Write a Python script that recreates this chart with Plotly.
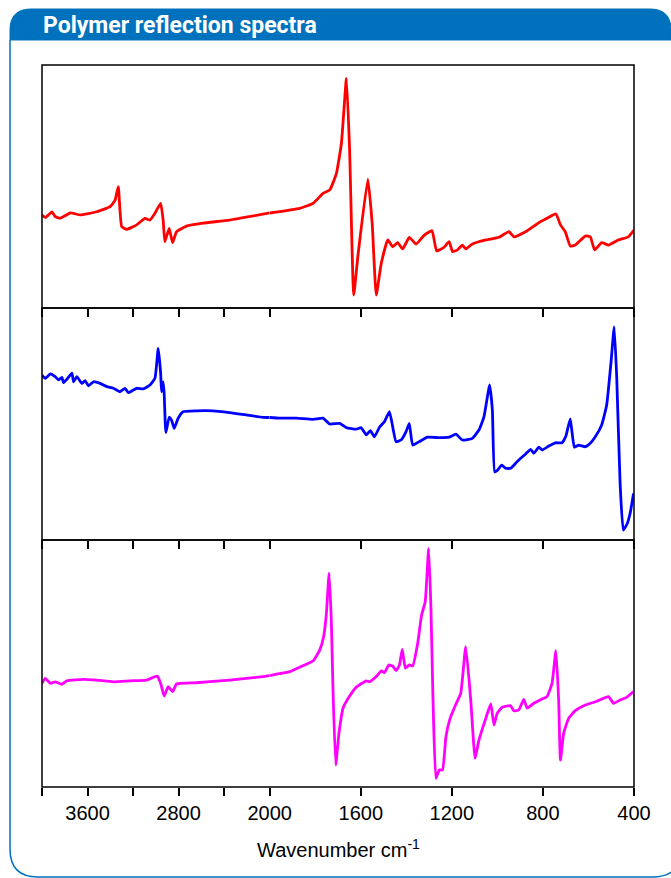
import plotly.graph_objects as go

# ---------------- data ----------------
red_wn = [4000, 3971, 3912, 3884, 3840, 3752, 3665, 3519, 3402, 3358, 3330, 3300, 3256, 3168,
          3096, 3052, 3008, 2958, 2936, 2921, 2883, 2853, 2818, 2731, 2586, 2352, 2000, 1868,
          1809, 1766, 1736, 1707, 1685, 1663, 1649, 1631, 1613, 1569, 1550, 1532, 1510, 1481,
          1460, 1438, 1416, 1387, 1357, 1321, 1287, 1267, 1234, 1212, 1197, 1175, 1154, 1139,
          1110, 1051, 993, 949, 928, 876, 818, 782, 743, 723, 702, 680, 658, 614, 592, 573,
          542, 512, 469, 425, 400]
red_val = [0.383, 0.372, 0.396, 0.376, 0.370, 0.391, 0.383, 0.396, 0.417, 0.444, 0.499, 0.335,
           0.324, 0.342, 0.369, 0.362, 0.390, 0.431, 0.362, 0.273, 0.328, 0.269, 0.314, 0.337,
           0.349, 0.362, 0.391, 0.410, 0.431, 0.472, 0.486, 0.554, 0.678, 0.945, 0.650, 0.053,
           0.211, 0.530, 0.349, 0.053, 0.184, 0.280, 0.252, 0.269, 0.243, 0.291, 0.263, 0.300,
           0.318, 0.235, 0.250, 0.273, 0.232, 0.239, 0.259, 0.243, 0.263, 0.280, 0.291, 0.314,
           0.293, 0.314, 0.351, 0.369, 0.387, 0.342, 0.314, 0.255, 0.259, 0.296, 0.293, 0.239,
           0.269, 0.259, 0.280, 0.293, 0.321]

blue_wn = [4000, 3971, 3927, 3884, 3855, 3825, 3811, 3781, 3737, 3723, 3694, 3650, 3621, 3592,
           3548, 3490, 3431, 3373, 3315, 3271, 3242, 3168, 3111, 3052, 3008, 2979, 2958, 2950,
           2936, 2927, 2912, 2883, 2862, 2839, 2804, 2761, 2643, 2498, 2352, 2206, 2060, 2000,
           1955, 1882, 1809, 1766, 1736, 1693, 1663, 1620, 1598, 1576, 1558, 1540, 1518, 1496,
           1474, 1445, 1423, 1401, 1387, 1372, 1343, 1307, 1255, 1212, 1182, 1154, 1110, 1081,
           1059, 1034, 1022, 1012, 1001, 981, 964, 942, 913, 876, 854, 840, 818, 804, 774, 745,
           716, 699, 680, 662, 643, 614, 592, 570, 542, 520, 500, 487, 476, 461, 447, 429, 417,
           402]
blue_val = [0.711, 0.697, 0.716, 0.704, 0.690, 0.701, 0.678, 0.693, 0.719, 0.682, 0.704, 0.675,
            0.687, 0.664, 0.682, 0.675, 0.661, 0.654, 0.639, 0.654, 0.635, 0.654, 0.651, 0.668,
            0.697, 0.826, 0.719, 0.639, 0.682, 0.632, 0.463, 0.529, 0.517, 0.481, 0.525, 0.553,
            0.557, 0.557, 0.549, 0.539, 0.529, 0.528, 0.525, 0.525, 0.520, 0.525, 0.500, 0.503,
            0.484, 0.478, 0.484, 0.453, 0.471, 0.445, 0.486, 0.510, 0.553, 0.424, 0.431, 0.467,
            0.503, 0.409, 0.424, 0.443, 0.441, 0.443, 0.456, 0.431, 0.438, 0.474, 0.531, 0.668,
            0.560, 0.294, 0.299, 0.323, 0.309, 0.309, 0.338, 0.371, 0.391, 0.374, 0.400, 0.388,
            0.405, 0.419, 0.419, 0.448, 0.522, 0.400, 0.409, 0.402, 0.417, 0.445, 0.496, 0.582,
            0.776, 0.919, 0.704, 0.244, 0.043, 0.072, 0.115, 0.201]

mag_wn = [4000, 3971, 3927, 3884, 3825, 3781, 3636, 3519, 3373, 3227, 3081, 2988, 2958, 2927,
          2892, 2853, 2818, 2643, 2352, 2060, 2000, 1969, 1911, 1868, 1809, 1780, 1763, 1751,
          1739, 1729, 1722, 1710, 1696, 1678, 1649, 1620, 1591, 1576, 1561, 1532, 1510, 1496,
          1477, 1460, 1445, 1430, 1418, 1404, 1387, 1372, 1350, 1333, 1317, 1302, 1292, 1282,
          1270, 1255, 1241, 1226, 1209, 1182, 1161, 1139, 1117, 1098, 1081, 1051, 1029, 1015,
          1001, 979, 942, 928, 906, 884, 869, 840, 804, 782, 760, 743, 731, 723, 709, 687, 658,
          614, 570, 512, 490, 461, 432, 402]
mag_val = [0.420, 0.440, 0.420, 0.426, 0.416, 0.430, 0.436, 0.433, 0.426, 0.430, 0.433, 0.449,
           0.420, 0.368, 0.406, 0.386, 0.417, 0.422, 0.433, 0.447, 0.451, 0.457, 0.467, 0.485,
           0.511, 0.555, 0.609, 0.703, 0.866, 0.663, 0.393, 0.089, 0.217, 0.319, 0.368, 0.404,
           0.422, 0.430, 0.426, 0.447, 0.470, 0.463, 0.494, 0.490, 0.471, 0.494, 0.557, 0.481,
           0.494, 0.490, 0.582, 0.696, 0.750, 0.966, 0.730, 0.325, 0.035, 0.069, 0.069, 0.204,
           0.274, 0.336, 0.379, 0.568, 0.352, 0.116, 0.190, 0.278, 0.336, 0.251, 0.298, 0.323,
           0.329, 0.309, 0.312, 0.355, 0.319, 0.339, 0.356, 0.366, 0.420, 0.552, 0.352, 0.109,
           0.217, 0.278, 0.309, 0.332, 0.345, 0.366, 0.339, 0.352, 0.363, 0.386]

series = [("red", red_wn, red_val, "#FF0000"),
          ("blue", blue_wn, blue_val, "#0000FF"),
          ("magenta", mag_wn, mag_val, "#FF00FF")]

left_major = [3600, 2800]
left_major_labels = ["3600", "2800"]
left_minor = [4000, 3200, 2400]
right_ticks = [2000, 1600, 1200, 800, 400]
right_labels = ["2000", "1600", "1200", "800", "400"]
BREAK = 2000

# ---------------- layout geometry ----------------
W, H = 671, 878
ML, MR, MT, MB = 42, 37, 65, 91
PW, PH = W - ML - MR, H - MT - MB


def pxx(x):
    return (x - ML) / PW


def pxy(y):
    return (H - MB - y) / PH


panel_domains = [[pxy(308), 1.0], [pxy(540), pxy(308)], [0.0, pxy(540)]]
xsplit = pxx(269.7)

fig = go.Figure()
layout = {}
for i, (name, wn, val, col) in enumerate(series):
    xl = 2 * i + 1
    xr = 2 * i + 2
    yn = i + 1
    lx = "x" if xl == 1 else f"x{xl}"
    rx = f"x{xr}"
    yy = "y" if yn == 1 else f"y{yn}"
    left = [(w, v) for w, v in zip(wn, val) if w >= BREAK]
    right = [(w, v) for w, v in zip(wn, val) if w <= BREAK]
    for part, ax in ((left, lx), (right, rx)):
        fig.add_trace(go.Scatter(x=[p[0] for p in part], y=[p[1] for p in part],
                                 xaxis=ax, yaxis=yy, mode="lines",
                                 line=dict(color=col, width=2.8, shape="spline", smoothing=0.4),
                                 showlegend=False, hoverinfo="skip"))
    bottom = (i == 2)
    common = dict(showgrid=False, zeroline=False, showline=False, ticks="outside",
                  ticklen=8, tickwidth=1.5, tickcolor="black",
                  tickfont=dict(family="Liberation Sans, Arial", size=20, color="black"),
                  anchor=yy)
    layout["xaxis" if xl == 1 else f"xaxis{xl}"] = dict(
        common, domain=[0, xsplit], range=[4000, 2000], tickmode="array",
        tickvals=left_major, ticktext=left_major_labels, showticklabels=bottom,
        minor=dict(tickmode="array", tickvals=left_minor, ticks="outside", ticklen=8,
                   tickwidth=1.5, tickcolor="black", showgrid=False))
    layout[f"xaxis{xr}"] = dict(
        common, domain=[xsplit, 1], range=[2000, 400], tickmode="array",
        tickvals=right_ticks, ticktext=right_labels, showticklabels=bottom)
    layout["yaxis" if yn == 1 else f"yaxis{yn}"] = dict(
        domain=panel_domains[i], range=[0, 1], showgrid=False, zeroline=False,
        showline=False, showticklabels=False, ticks="", anchor=lx)

shapes = []
for d in panel_domains:
    shapes.append(dict(type="rect", xref="paper", yref="paper", x0=0, x1=1, y0=d[0], y1=d[1],
                       line=dict(color="black", width=1.5), layer="above"))


def P(x, y):
    return f"{pxx(x):.5f},{pxy(y):.5f}"


BLUE = "#0071BC"
header = (f"M {P(10, 40)} L {P(10, 30)} Q {P(10, 9)} {P(31, 9)} L {P(650, 9)} "
          f"Q {P(671, 9)} {P(671, 30)} L {P(671, 40)} Z")
shapes.append(dict(type="path", xref="paper", yref="paper", path=header,
                   fillcolor=BLUE, line=dict(color=BLUE, width=1)))
frame = (f"M {P(10, 40)} L {P(10, 849)} Q {P(10, 877)} {P(38, 877)} L {P(652, 877)} "
         f"Q {P(682, 877)} {P(682, 847)} L {P(682, 40)}")
shapes.append(dict(type="path", xref="paper", yref="paper", path=frame,
                   line=dict(color=BLUE, width=1.5)))

annotations = [
    dict(text="<b>Polymer reflection spectra</b>", xref="paper", yref="paper",
         x=pxx(41), y=pxy(25), xanchor="left", yanchor="middle", showarrow=False,
         font=dict(family="Roboto", size=23, color="white")),
    dict(text="Wavenumber cm<sup>-1</sup>", xref="paper", yref="paper",
         x=0.5, y=pxy(848), xanchor="center", yanchor="middle", showarrow=False,
         font=dict(family="Liberation Sans, Arial", size=20, color="black")),
]

fig.update_layout(width=W, height=H, margin=dict(l=ML, r=MR, t=MT, b=MB, pad=0),
                  paper_bgcolor="white", plot_bgcolor="white", shapes=shapes,
                  annotations=annotations, hovermode=False, **layout)

fig.write_html("out.html", config={"displayModeBar": False},
               post_script="document.body.style.margin='0';document.body.style.padding='0';"
                           "document.body.style.overflow='hidden';")
